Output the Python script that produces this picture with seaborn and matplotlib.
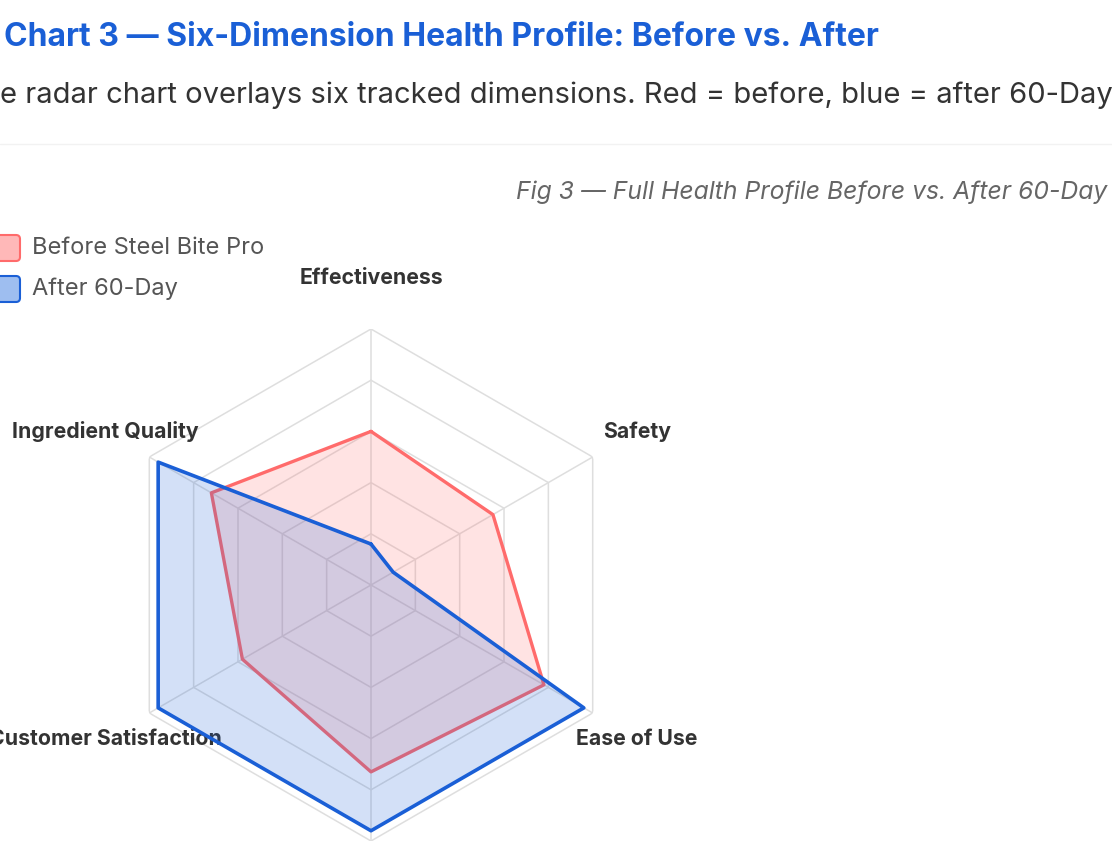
import numpy as np
import pandas as pd
import seaborn as sns
import matplotlib.pyplot as plt
from matplotlib.patches import FancyBboxPatch

# data
categories = ["Effectiveness", "Safety", "Ease of Use", "Value for Money",
              "Customer Satisfaction", "Ingredient Quality"]
before = [60, 55, 78, 73, 58, 72]
after = [16, 10, 96, 96, 96, 96]
series_names = ["Before Steel Bite Pro", "After 60-Day"]
ring_levels = [20, 40, 60, 80, 100]

sns.set_theme(style="white")
plt.rcParams["font.family"] = ["Inter", "DejaVu Sans"]

W, H = 1112, 850
fig = plt.figure(figsize=(W / 100, H / 100), dpi=100)

# overlay in pixel coordinates for page text / legend
page = fig.add_axes([0, 0, 1, 1])
page.set_xlim(0, W)
page.set_ylim(H, 0)
page.axis("off")

page.text(4, 46, "Chart 3 \u2014 Six-Dimension Health Profile: Before vs. After",
          color="#1a5fd6", fontsize=23, fontweight="bold", va="baseline")
page.text(-36, 103, "The radar chart overlays six tracked dimensions. Red = before, "
          "blue = after 60-Day", color="#333333", fontsize=21, va="baseline")
page.plot([0, W], [144, 144], color="#f2f2f2", lw=1)
page.text(1107, 199, "Fig 3 \u2014 Full Health Profile Before vs. After 60-Day",
          color="#666666", fontsize=17.8, style="italic", ha="right", va="baseline")

# legend boxes
colors = {"Before Steel Bite Pro": ("#ff6b6b", "#ffb8b8"),
          "After 60-Day": ("#1a5fd6", "#9ebef0")}
for i, name in enumerate(series_names):
    yc = 248 + i * 41
    edge, face = colors[name]
    page.add_patch(FancyBboxPatch((-20, yc - 13), 40, 26,
                                  boxstyle="round,pad=0,rounding_size=4",
                                  fc=face, ec=edge, lw=1.5))
    page.text(32, yc, name, color="#555555", fontsize=17, va="center")

# radar
cx, cy, R = 371, 585, 256
ax = fig.add_axes([(cx - R) / W, 1 - (cy + R) / H, 2 * R / W, 2 * R / H],
                  projection="polar")
ax.set_theta_offset(np.pi / 2)
ax.set_theta_direction(-1)
ax.patch.set_alpha(0)
ax.spines["polar"].set_visible(False)
ax.grid(False)

n = len(categories)
theta = np.linspace(0, 2 * np.pi, n, endpoint=False)
closed = np.append(theta, theta[0])

for lvl in ring_levels:
    ax.plot(closed, [lvl] * (n + 1), color="#dedede", lw=1.1, zorder=1)
for t in theta:
    ax.plot([t, t], [0, ring_levels[-1]], color="#dedede", lw=1.1, zorder=1)

df = pd.DataFrame({
    "theta": np.concatenate([closed, closed]),
    "value": before + [before[0]] + after + [after[0]],
    "series": [series_names[0]] * (n + 1) + [series_names[1]] * (n + 1),
})

for k, name in enumerate(series_names):
    sub = df[df["series"] == name]
    edge, _ = colors[name]
    ax.fill(sub["theta"], sub["value"], color=edge, alpha=0.19, lw=0, zorder=2 + 2 * k)
    sns.lineplot(data=sub, x="theta", y="value", sort=False, estimator=None,
                 color=edge, lw=2.4 + 0.2 * k, ax=ax, zorder=3 + 2 * k)

# axis names sit at 1.2x the outer ring; the bottom one falls below the page
for t, name in zip(theta, categories):
    if np.cos(t) < -0.99:
        continue
    ax.text(t, 120, name, ha="center", va="center", fontsize=15.3,
            fontweight="bold", color="#333333", clip_on=False)

ax.set_ylim(0, 100)
ax.set_xticks([])
ax.set_yticks([])
ax.set_xlabel("")
ax.set_ylabel("")

fig.savefig("out.png", dpi=100)
